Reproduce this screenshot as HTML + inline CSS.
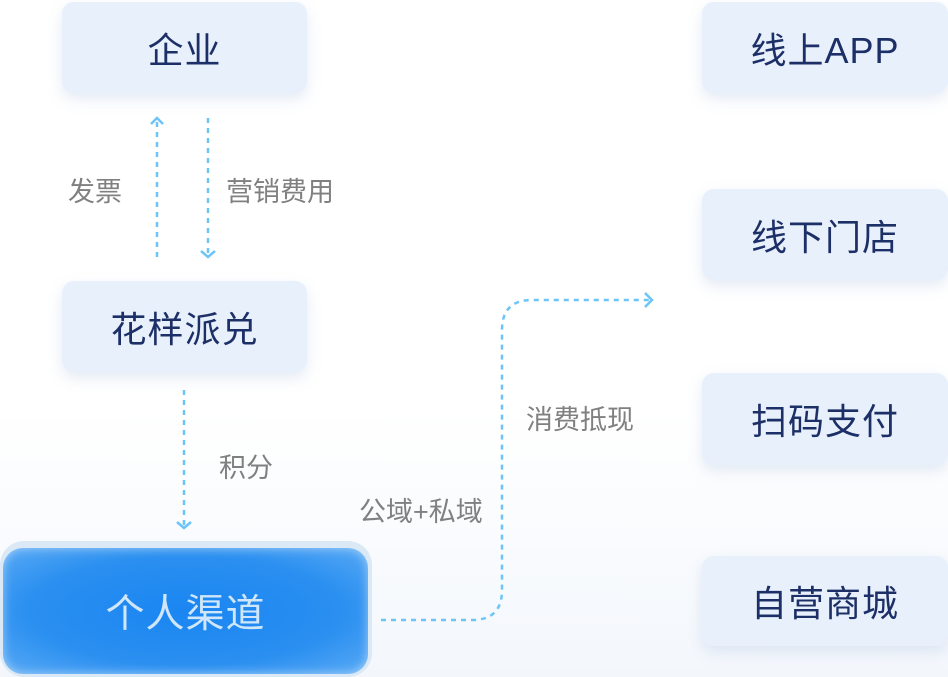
<!DOCTYPE html>
<html><head><meta charset="utf-8"><style>
body{margin:0;width:948px;height:677px;background:linear-gradient(180deg,#fff 60%,#f3f7fc);position:relative;overflow:hidden;font-family:"Liberation Sans","Noto Sans CJK SC",sans-serif}
.b{position:absolute;background:#e8f0fc;border-radius:12px;box-shadow:0 6px 14px rgba(150,175,215,.25);color:#1c2f66;font-size:36px;font-weight:normal;display:flex;align-items:center;justify-content:center;letter-spacing:1px}
.l{position:absolute;color:#808080;font-size:27px}
</style></head><body>
<div class="b" style="left:62px;top:2px;width:245px;height:91px">企业</div>
<div class="b" style="left:62px;top:281px;width:245px;height:91px">花样派兑</div>
<div class="b" style="left:702px;top:2px;width:246px;height:91px">线上APP</div>
<div class="b" style="left:702px;top:189px;width:246px;height:91px">线下门店</div>
<div class="b" style="left:702px;top:373px;width:246px;height:92px">扫码支付</div>
<div class="b" style="left:702px;top:556px;width:246px;height:90px">自营商城</div>
<div style="position:absolute;left:0;top:541px;width:372px;height:136px;border-radius:24px;background:#dbe8f5"></div>
<div style="position:absolute;left:3px;top:548px;width:365px;height:126px;border-radius:20px;background:radial-gradient(ellipse at 50% 50%,#1a86f2,#2a8ff0 60%,#5aaaf5);box-shadow:inset 0 0 10px rgba(255,255,255,.5);display:flex;align-items:center;justify-content:center;color:#cfe6fb;font-size:39px;letter-spacing:1px">个人渠道</div>
<div class="l" style="left:68px;top:170px">发票</div>
<div class="l" style="left:226px;top:170px">营销费用</div>
<div class="l" style="left:219px;top:446px">积分</div>
<div class="l" style="left:359px;top:490px">公域+私域</div>
<div class="l" style="left:526px;top:398px">消费抵现</div>
<svg width="948" height="677" style="position:absolute;left:0;top:0" fill="none" stroke="#6cc4f7" stroke-width="2.5">
<path d="M157 257V120" stroke-dasharray="5 5"/><path d="M151 124l6-6 6 6"/>
<path d="M208 118V254" stroke-dasharray="5 5"/><path d="M201 251l7 6 7-6"/>
<path d="M184 390V528" stroke-dasharray="5 5"/><path d="M177 522l7 6 7-6"/>
<path d="M381 620H472Q502 620 502 590V330Q502 300 532 300H650" stroke-dasharray="5 5"/><path d="M645 293l7 7-7 7"/>
</svg>
</body></html>
